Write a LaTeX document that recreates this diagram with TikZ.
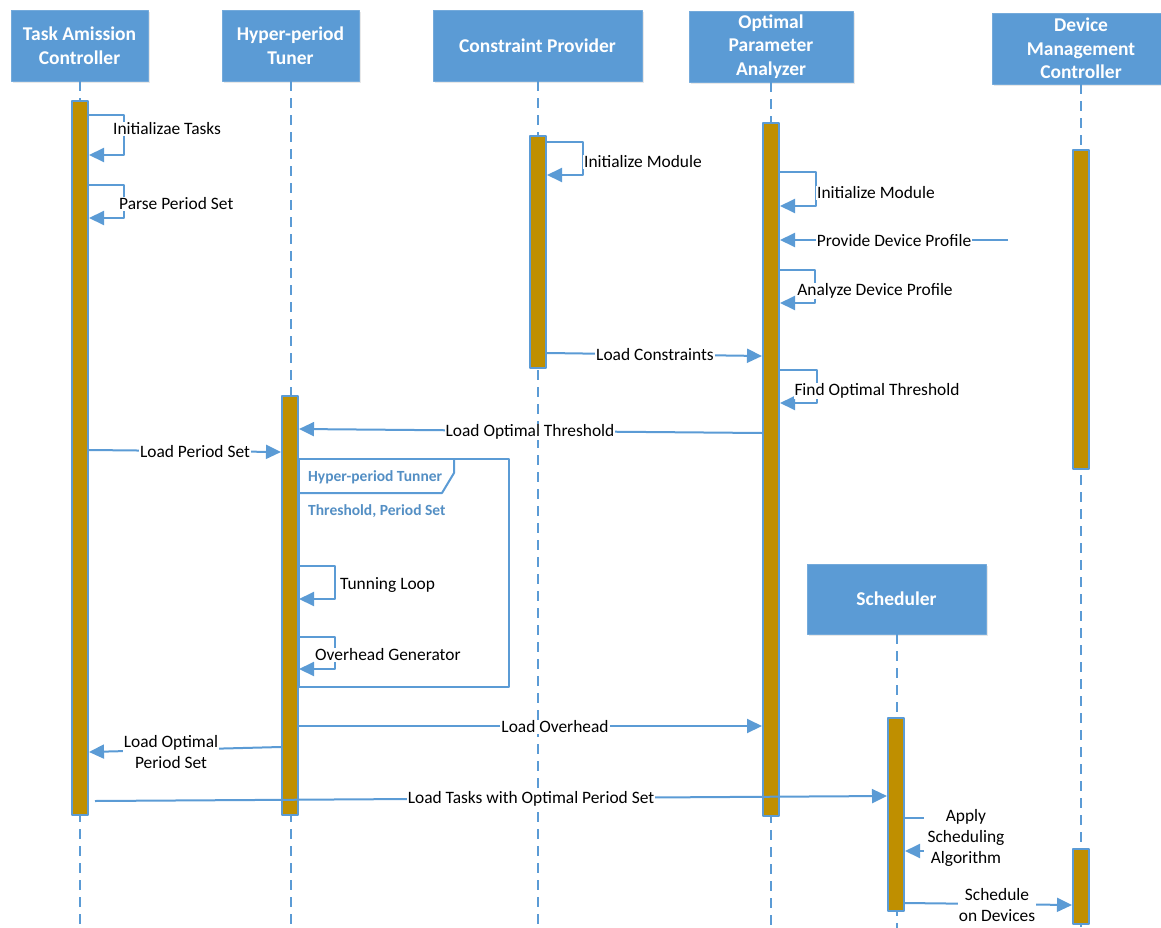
\documentclass[tikz,border=0pt]{standalone}
\usepackage{fontspec}
\setmainfont{Carlito}
\usetikzlibrary{arrows.meta,shadows}
\definecolor{seqblue}{HTML}{5B9BD5}
\definecolor{actgold}{HTML}{BF8F00}
\tikzset{
  head/.style={fill=seqblue, draw=seqblue!85!white, text=white, align=center, inner sep=0pt,
    font=\fontsize{19.5}{23.5}\selectfont\bfseries,
    drop shadow={opacity=.18, shadow xshift=2pt, shadow yshift=-2pt}},
  life/.style={seqblue, line width=2pt, dash pattern=on 10pt off 7pt},
  act/.style={fill=actgold, draw=seqblue, line width=2pt, inner sep=0pt, minimum width=16pt},
  msg/.style={seqblue, line width=2pt, -{Triangle[length=15pt,width=14pt]}},
  lbl/.style={fill=white, inner sep=1pt, align=center, font=\fontsize{17.4}{21}\selectfont},
  frm/.style={text=seqblue!92!black, inner sep=1pt, font=\fontsize{15.5}{18}\selectfont\bfseries},
}
\begin{document}
\begin{tikzpicture}[x=1pt, y=-1pt, line join=round]
\useasboundingbox (0,0) rectangle (1161,928);
% lifeline heads
\node[head, minimum width=137pt, minimum height=71pt] (tac) at (79.5,45.5) {Task Amission\\Controller};
\node[head, minimum width=137pt, minimum height=71pt] (hpt) at (290.5,45.5) {Hyper-period\\Tuner};
\node[head, minimum width=209pt, minimum height=71pt] (cp) at (537.5,45.5) {Constraint Provider};
\node[head, minimum width=164pt, minimum height=71pt] (opa) at (771,46.5) {Optimal\\Parameter\\Analyzer};
\node[head, minimum width=178pt, minimum height=71pt] (dmc) at (1081,48.5) {Device\\Management\\Controller};
\node[head, minimum width=179pt, minimum height=70pt] (sch) at (896.5,599) {Scheduler};
\foreach \h in {tac,hpt,cp,opa,dmc,sch}
  \draw[life] (\h.south) -- (\h.south |- 0,928);
% activation bars
\foreach \n/\x/\t/\h in {A/80/100/714, B/290/395/419, C/538/135/232, D/771/122/693,
    E/1081/149/319, F/1081/848/75, S/896/717/193}
  \node[act, minimum height=\h pt, anchor=north] (act\n) at (\x,\t) {};
\coordinate (dev) at (1008,240);
\coordinate (tsk) at (95,801);
% messages
\draw[msg] (actA.east |- 0,115) -| (124,155) -- (actA.east |- 0,155);
\draw[msg] (actA.east |- 0,185) -| (124,218) -- (actA.east |- 0,218);
\draw[msg] (actC.east |- 0,142) -| (583,175) -- (actC.east |- 0,175);
\draw[msg] (actD.east |- 0,172) -| (816,206) -- (actD.east |- 0,206);
\draw[msg] (dev) -- (actD.east |- dev);
\draw[msg] (actD.east |- 0,270) -| (815,303) -- (actD.east |- 0,303);
\draw[msg] (actC.east |- 0,353) -- (actD.west |- 0,356);
\draw[msg] (actD.east |- 0,370) -| (817,403) -- (actD.east |- 0,403);
\draw[msg] (actD.west |- 0,433) -- (actB.east |- 0,429);
\draw[msg] (actA.east |- 0,450) -- (actB.west |- 0,452);
\draw[msg] (actB.east |- 0,566) -| (335,599) -- (actB.east |- 0,599);
\draw[msg] (actB.east |- 0,637) -| (335,669) -- (actB.east |- 0,669);
\draw[msg] (actB.east |- 0,726) -- (actD.west |- 0,726);
\draw[msg] (actB.west |- 0,747) -- (actA.east |- 0,752);
\draw[msg] (tsk) -- (actS.west |- 0,796);
\draw[msg] (actS.east |- 0,818) -| (926,851) -- (actS.east |- 0,851);
\draw[msg] (actS.east |- 0,903) -- (actF.west |- 0,905);
% frame
\draw[seqblue, line width=2pt] (actB.east |- 0,459) rectangle (509,687);
\draw[seqblue, line width=2pt] (actB.east |- 0,493) -- (442,493) -- (454,473) -- (454,459);
\node[frm, anchor=west] (frtab) at (307,477) {Hyper-period Tunner};
\node[frm, anchor=west] (frarg) at (307,511) {Threshold, Period Set};
% labels
\node[lbl, anchor=west] (l1) at (112,129) {Initializae Tasks};
\node[lbl, anchor=west] (l2) at (118,204) {Parse Period Set};
\node[lbl, anchor=west] (l3) at (583,162) {Initialize Module};
\node[lbl, anchor=west] (l4) at (816,193) {Initialize Module};
\node[lbl] (l5) at (894,241) {Provide Device Profile};
\node[lbl] (l6) at (875,291) {Analyze Device Profile};
\node[lbl] (l7) at (655,355) {Load Constraints};
\node[lbl] (l8) at (877,391) {Find Optimal Threshold};
\node[lbl] (l9) at (530,432) {Load Optimal Threshold};
\node[lbl] (l10) at (195,452) {Load Period Set};
\node[lbl, anchor=west] (l11) at (339,585) {Tunning Loop};
\node[lbl, anchor=west] (l12) at (314,655) {Overhead Generator};
\node[lbl] (l13) at (555,727) {Load Overhead};
\node[lbl] (l14) at (171,752) {Load Optimal\\Period Set};
\node[lbl] (l15) at (531,799) {Load Tasks with Optimal Period Set};
\node[lbl, inner sep=4pt] (l16) at (966,838) {Apply\\Scheduling\\Algorithm};
\node[lbl] (l17) at (997,905) {Schedule\\on Devices};
\end{tikzpicture}
\end{document}
